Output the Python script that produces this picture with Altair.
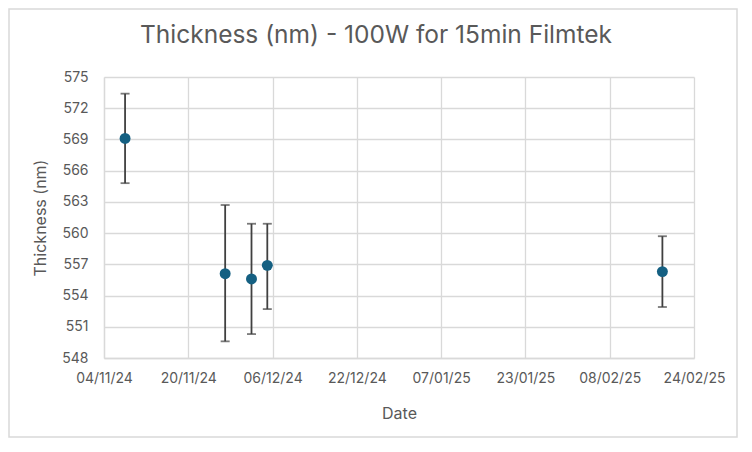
import altair as alt
import pandas as pd

dates = ["2024-11-08", "2024-11-27", "2024-12-02", "2024-12-05", "2025-02-18"]
thickness = [569.1, 556.1, 555.6, 556.9, 556.3]
err_low = [564.8, 549.6, 550.3, 552.7, 552.9]
err_high = [573.4, 562.7, 560.9, 560.9, 559.7]

y_ticks = [548, 551, 554, 557, 560, 563, 566, 569, 572, 575]
x_ticks = ["2024-11-04", "2024-11-20", "2024-12-06", "2024-12-22",
           "2025-01-07", "2025-01-23", "2025-02-08", "2025-02-24"]
chart_title = "Thickness (nm) - 100W for 15min Filmtek"

df = pd.DataFrame({"date": dates, "thickness": thickness,
                   "lo": err_low, "hi": err_high})

FONT = "Inter"
GREY = "#595959"
GRID = "#d9d9d9"
W, H = 590, 281
PAD = {"left": 96, "top": 69, "right": 44, "bottom": 80}


def dt(s):
    y, m, d = s.split("-")
    return alt.DateTime(year=int(y), month=int(m), date=int(d), utc=True)


x_scale = alt.Scale(type="utc", domain=[dt(x_ticks[0]), dt(x_ticks[-1])], nice=False)
y_scale = alt.Scale(domain=[y_ticks[0], y_ticks[-1]], nice=False, zero=False)

x_axis = alt.Axis(values=[dt(s) for s in x_ticks], format="%d/%m/%y",
                  grid=True, ticks=False, labelPadding=13,
                  labelOverlap=False, labelBound=False, labelFlush=False,
                  titleY=55, titleBaseline="middle")
y_axis = alt.Axis(values=y_ticks, grid=True, ticks=False, labelPadding=16,
                  labelOverlap=False, labelBound=False, labelFlush=False,
                  titleX=-64, titleY=H / 2, titleAngle=-90,
                  titleAlign="center", titleBaseline="middle")


def xe():
    return alt.X("date:T", scale=x_scale, title="Date", axis=x_axis)


def ye(field):
    return alt.Y(f"{field}:Q", scale=y_scale, title="Thickness (nm)", axis=y_axis)


base = alt.Chart(df)

rules = base.mark_rule(color="#404040", strokeWidth=1.8).encode(
    x=xe(), y=ye("lo"), y2="hi:Q")
caps_lo = base.mark_tick(color="#404040", thickness=1.8, size=9,
                         orient="horizontal").encode(x=xe(), y=ye("lo"))
caps_hi = base.mark_tick(color="#404040", thickness=1.8, size=9,
                         orient="horizontal").encode(x=xe(), y=ye("hi"))
points = base.mark_circle(color="#156082", opacity=1, size=120).encode(
    x=xe(), y=ye("thickness"))

one = pd.DataFrame({"t": [chart_title]})
border = alt.Chart(one).mark_rect(
    filled=False, stroke=GRID, strokeWidth=1.5).encode(
    x=alt.value(-PAD["left"] + 1), x2=alt.value(W + PAD["right"] - 1),
    y=alt.value(-PAD["top"] + 1), y2=alt.value(H + PAD["bottom"] - 1))
title = alt.Chart(one).mark_text(
    font=FONT, fontSize=24.5, color=GREY, align="center",
    baseline="alphabetic").encode(
    text="t:N", x=alt.value(272), y=alt.value(-34))

chart = alt.layer(border, title, rules, caps_lo, caps_hi, points).properties(
    width=W, height=H,
    autosize=alt.AutoSizeParams(type="none"),
    padding=PAD,
).configure(background="white").configure_view(stroke=None).configure_axis(
    labelFont=FONT, titleFont=FONT, labelFontSize=14, titleFontSize=16,
    labelColor=GREY, titleColor=GREY, titleFontWeight="normal",
    gridColor=GRID, gridWidth=1.3, domainColor=GRID, domainWidth=1.3,
)

chart.save("out.html", embed_options={"renderer": "svg", "actions": False})
